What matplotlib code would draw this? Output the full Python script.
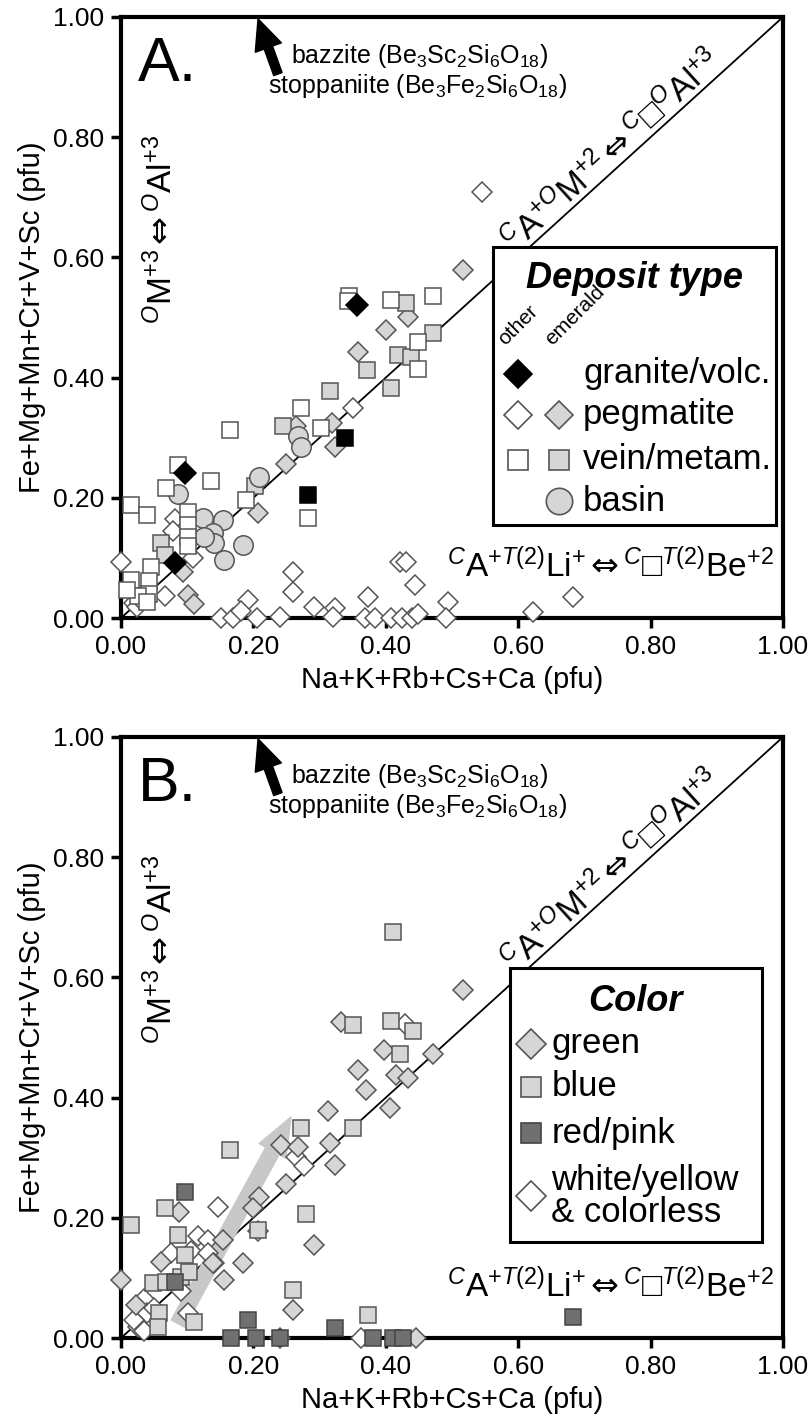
import numpy as np
import matplotlib
matplotlib.use('Agg')
import matplotlib.pyplot as plt
from matplotlib.patches import FancyArrowPatch, Rectangle
import matplotlib.transforms as mtransforms

plt.rcParams['font.family'] = ['Liberation Sans', 'DejaVu Sans']
plt.rcParams['mathtext.fontset'] = 'custom'
plt.rcParams['mathtext.rm'] = 'Liberation Sans'
plt.rcParams['mathtext.it'] = 'Liberation Sans:italic'
plt.rcParams['mathtext.bf'] = 'Liberation Sans:bold'
plt.rcParams['mathtext.sf'] = 'DejaVu Sans'
plt.rcParams['mathtext.fallback'] = 'cm'

# ---------------- Panel A data (Deposit type) ----------------
A_granite_x = [0.356, 0.096, 0.081]
A_granite_y = [0.521, 0.241, 0.091]
A_blacksq_x = [0.338, 0.282]
A_blacksq_y = [0.299, 0.205]

A_peg_other_x = [0.151, 0.169, 0.192, 0.182, 0.206, 0.240, 0.260, 0.260, 0.292, 0.323,
                 0.320, 0.373, 0.368, 0.383, 0.408, 0.424, 0.439, 0.449, 0.494, 0.491,
                 0.421, 0.431, 0.444, 0.623, 0.683, 0.000, 0.081, 0.078, 0.109, 0.351,
                 0.545, 0.066, 0.020, 0.024, 0.030]
A_peg_other_y = [0.000, 0.000, 0.030, 0.012, 0.000, 0.002, 0.077, 0.044, 0.019, 0.016,
                 0.002, 0.035, 0.000, 0.000, 0.000, 0.000, 0.000, 0.007, 0.027, 0.000,
                 0.094, 0.094, 0.055, 0.010, 0.035, 0.094, 0.165, 0.144, 0.100, 0.349,
                 0.709, 0.036, 0.025, 0.018, 0.030]

A_peg_emer_x = [0.517, 0.434, 0.401, 0.358, 0.318, 0.264, 0.323, 0.250, 0.207, 0.093,
                0.101, 0.111]
A_peg_emer_y = [0.579, 0.501, 0.479, 0.443, 0.324, 0.320, 0.285, 0.257, 0.174, 0.077,
                0.038, 0.024]

A_vein_other_x = [0.164, 0.272, 0.302, 0.345, 0.343, 0.408, 0.472, 0.449, 0.449, 0.086,
                  0.068, 0.136, 0.189, 0.282, 0.015, 0.040, 0.101, 0.101, 0.101, 0.101,
                  0.045, 0.043, 0.043, 0.015, 0.025, 0.040, 0.009]
A_vein_other_y = [0.313, 0.349, 0.316, 0.535, 0.527, 0.529, 0.535, 0.460, 0.415, 0.255,
                  0.216, 0.228, 0.196, 0.166, 0.188, 0.171, 0.177, 0.155, 0.135, 0.119,
                  0.085, 0.062, 0.040, 0.063, 0.036, 0.027, 0.047]

A_vein_emer_x = [0.245, 0.202, 0.431, 0.472, 0.419, 0.438, 0.371, 0.315, 0.408, 0.061,
                 0.067]
A_vein_emer_y = [0.319, 0.219, 0.524, 0.474, 0.438, 0.435, 0.413, 0.377, 0.382, 0.124,
                 0.105]

A_basin_x = [0.267, 0.272, 0.086, 0.209, 0.124, 0.154, 0.139, 0.141, 0.184, 0.156, 0.126]
A_basin_y = [0.302, 0.285, 0.207, 0.235, 0.166, 0.163, 0.141, 0.124, 0.121, 0.097, 0.135]

# ---------------- Panel B data (Color) ----------------
B_green_x = [0.517, 0.333, 0.398, 0.472, 0.358, 0.416, 0.433, 0.370, 0.406, 0.313,
             0.242, 0.267, 0.315, 0.323, 0.250, 0.209, 0.199, 0.088, 0.292, 0.154,
             0.061, 0.139, 0.184, 0.156, 0.000, 0.023, 0.260, 0.446]
B_green_y = [0.579, 0.526, 0.479, 0.472, 0.446, 0.438, 0.432, 0.413, 0.382, 0.377,
             0.321, 0.318, 0.324, 0.288, 0.257, 0.235, 0.216, 0.209, 0.155, 0.163,
             0.127, 0.124, 0.124, 0.097, 0.097, 0.055, 0.047, 0.000]

B_blue_x = [0.411, 0.350, 0.408, 0.441, 0.421, 0.351, 0.272, 0.164, 0.280, 0.066,
            0.015, 0.207, 0.086, 0.096, 0.048, 0.068, 0.090, 0.103, 0.058, 0.056,
            0.111, 0.260, 0.373]
B_blue_y = [0.675, 0.521, 0.528, 0.510, 0.472, 0.349, 0.349, 0.313, 0.207, 0.216,
            0.188, 0.180, 0.171, 0.138, 0.091, 0.094, 0.102, 0.110, 0.041, 0.019,
            0.027, 0.080, 0.038]

B_red_x = [0.096, 0.081, 0.166, 0.192, 0.204, 0.240, 0.323, 0.381, 0.411, 0.426, 0.683]
B_red_y = [0.243, 0.093, 0.000, 0.030, 0.000, 0.000, 0.016, 0.000, 0.000, 0.000, 0.035]

B_white_x = [0.429, 0.265, 0.277, 0.146, 0.116, 0.131, 0.076, 0.106, 0.131, 0.141,
             0.091, 0.035, 0.040, 0.025, 0.035, 0.101, 0.363, 0.240, 0.207, 0.020,
             0.050]
B_white_y = [0.523, 0.301, 0.286, 0.218, 0.170, 0.163, 0.142, 0.145, 0.142, 0.124,
             0.078, 0.065, 0.041, 0.019, 0.011, 0.041, 0.000, 0.000, 0.178, 0.030,
             0.050]

ticks = [0.0, 0.2, 0.4, 0.6, 0.8, 1.0]
tick_labels = ['0.00', '0.20', '0.40', '0.60', '0.80', '1.00']

LIGHT = '#d6d6d6'
DARK = '#707070'
EDGE = '#555555'

fig = plt.figure(figsize=(8.12, 14.24), dpi=100)
W, H = 812.0, 1424.0
axA = fig.add_axes([121 / W, 1 - 618 / H, 662 / W, 601 / H])
axB = fig.add_axes([121 / W, 1 - 1338 / H, 662 / W, 601 / H])

ARW = r'\,\mathsf{⇔}\,'


def pts(ax, xs, ys, marker, ms, fc, ec=EDGE, z=4, lw=1.1):
    ax.plot(xs, ys, linestyle='none', marker=marker, markersize=ms,
            markerfacecolor=fc, markeredgecolor=ec, markeredgewidth=lw,
            clip_on=False, zorder=z)


def base(ax, label):
    ax.set_xlim(0, 1)
    ax.set_ylim(0, 1)
    for s in ax.spines.values():
        s.set_linewidth(3)
    ax.set_xticks(ticks)
    ax.set_xticklabels(tick_labels)
    ax.set_yticks(ticks)
    ax.set_yticklabels(tick_labels)
    ax.tick_params(direction='out', length=7, width=2.5, labelsize=19, pad=5)
    ax.set_xlabel('Na+K+Rb+Cs+Ca (pfu)', fontsize=21, labelpad=5)
    ax.set_ylabel('Fe+Mg+Mn+Cr+V+Sc (pfu)', fontsize=21, labelpad=5)
    ax.plot([0, 1], [0, 1], color='black', lw=1.3, zorder=2)

    ax.text(0.025, 0.893, label, fontsize=45, ha='left', va='baseline')
    ax.text(0.257, 0.923, r'bazzite (Be$_3$Sc$_2$Si$_6$O$_{18}$)', fontsize=18,
            ha='left', va='baseline')
    ax.text(0.222, 0.873, r'stoppaniite (Be$_3$Fe$_2$Si$_6$O$_{18}$)', fontsize=18,
            ha='left', va='baseline')
    arr = FancyArrowPatch(posA=(0.237, 0.905), posB=(0.207, 0.997),
                          arrowstyle='simple,head_width=1.0,head_length=1.1,tail_width=0.32',
                          mutation_scale=20, color='black', shrinkA=0, shrinkB=0,
                          transform=ax.transData, clip_on=False, zorder=6)
    ax.add_patch(arr)

    off = mtransforms.offset_copy(ax.transData, fig=fig, x=-3, y=3, units='dots')
    ax.text(0.915, 0.915,
            r'${}^{C}\mathrm{A}^{+O}\mathrm{M}^{+2}' + ARW + r'{}^{C}\mathrm{□}^{O}\mathrm{Al}^{+3}$',
            fontsize=24, rotation=45, transform_rotates_text=True, rotation_mode='anchor',
            ha='right', va='baseline', transform=off, zorder=7)
    ax.text(0.077, 0.49,
            r'${}^{O}\mathrm{M}^{+3}' + ARW + r'{}^{O}\mathrm{Al}^{+3}$',
            fontsize=24, rotation=90, rotation_mode='anchor', ha='left', va='baseline')
    ax.text(0.986, 0.068,
            r'${}^{C}\mathrm{A}^{+T(2)}\mathrm{Li}^{+}' + ARW + r'{}^{C}\mathrm{□}^{T(2)}\mathrm{Be}^{+2}$',
            fontsize=24, ha='right', va='baseline', zorder=7)


# ---------------- Panel A ----------------
base(axA, 'A.')
pts(axA, A_peg_other_x, A_peg_other_y, 'D', 10, 'white')
pts(axA, A_peg_emer_x, A_peg_emer_y, 'D', 10, LIGHT)
pts(axA, A_vein_emer_x, A_vein_emer_y, 's', 12, LIGHT)
pts(axA, A_basin_x, A_basin_y, 'o', 14, LIGHT)
pts(axA, A_vein_other_x, A_vein_other_y, 's', 12, 'white')
pts(axA, A_blacksq_x, A_blacksq_y, 's', 12, 'black', ec='black', z=5)
pts(axA, A_granite_x, A_granite_y, 'D', 11, 'black', ec='black', z=5)

axA.add_patch(Rectangle((0.562, 0.155), 0.428, 0.463, transform=axA.transAxes,
                        facecolor='white', edgecolor='black', lw=2.2, zorder=8))
axA.text(0.776, 0.565, 'Deposit type', fontsize=26, fontweight='bold', style='italic',
         ha='center', va='center', transform=axA.transAxes, zorder=9)
axA.text(0.585, 0.448, 'other', fontsize=15, rotation=45, ha='left', va='bottom',
         rotation_mode='anchor', transform=axA.transAxes, zorder=9)
axA.text(0.655, 0.448, 'emerald', fontsize=15, rotation=45, ha='left', va='bottom',
         rotation_mode='anchor', transform=axA.transAxes, zorder=9)


def lg(ax, x, y, marker, ms, fc, ec=EDGE):
    ax.plot([x], [y], linestyle='none', marker=marker, markersize=ms, markerfacecolor=fc,
            markeredgecolor=ec, markeredgewidth=1.2, transform=ax.transAxes, zorder=9,
            clip_on=False)


lg(axA, 0.599, 0.406, 'D', 14, 'black', 'black')
lg(axA, 0.599, 0.338, 'D', 14, 'white')
lg(axA, 0.661, 0.338, 'D', 14, LIGHT)
lg(axA, 0.599, 0.263, 's', 15, 'white')
lg(axA, 0.661, 0.263, 's', 15, LIGHT)
lg(axA, 0.661, 0.194, 'o', 19, LIGHT)
for t, y in [('granite/volc.', 0.406), ('pegmatite', 0.338), ('vein/metam.', 0.263),
             ('basin', 0.194)]:
    axA.text(0.698, y, t, fontsize=25, ha='left', va='center', transform=axA.transAxes,
             zorder=9)

# ---------------- Panel B ----------------
base(axB, 'B.')
gray_arrow = FancyArrowPatch(posA=(0.086, 0.024), posB=(0.257, 0.368),
                             arrowstyle='simple,head_width=1.1,head_length=1.4,tail_width=0.55',
                             mutation_scale=20, color='#c8c8c8', shrinkA=0, shrinkB=0,
                             transform=axB.transData, zorder=3)
axB.add_patch(gray_arrow)
pts(axB, B_white_x, B_white_y, 'D', 10, 'white')
pts(axB, B_green_x, B_green_y, 'D', 10, LIGHT)
pts(axB, B_blue_x, B_blue_y, 's', 12, LIGHT)
pts(axB, B_red_x, B_red_y, 's', 12, DARK, ec='#444444')

axB.add_patch(Rectangle((0.587, 0.160), 0.381, 0.455, transform=axB.transAxes,
                        facecolor='white', edgecolor='black', lw=2.2, zorder=8))
axB.text(0.777, 0.56, 'Color', fontsize=26, fontweight='bold', style='italic',
         ha='center', va='center', transform=axB.transAxes, zorder=9)
lg(axB, 0.620, 0.490, 'D', 15, LIGHT)
lg(axB, 0.620, 0.418, 's', 15, LIGHT)
lg(axB, 0.620, 0.341, 's', 15, DARK, '#444444')
lg(axB, 0.620, 0.236, 'D', 15, 'white')
for t, y in [('green', 0.490), ('blue', 0.418), ('red/pink', 0.341)]:
    axB.text(0.650, y, t, fontsize=25, ha='left', va='center', transform=axB.transAxes,
             zorder=9)
axB.text(0.650, 0.236, 'white/yellow\n& colorless', fontsize=25, ha='left', va='center',
         linespacing=0.95, transform=axB.transAxes, zorder=9)

fig.savefig('out.png', dpi=100)
